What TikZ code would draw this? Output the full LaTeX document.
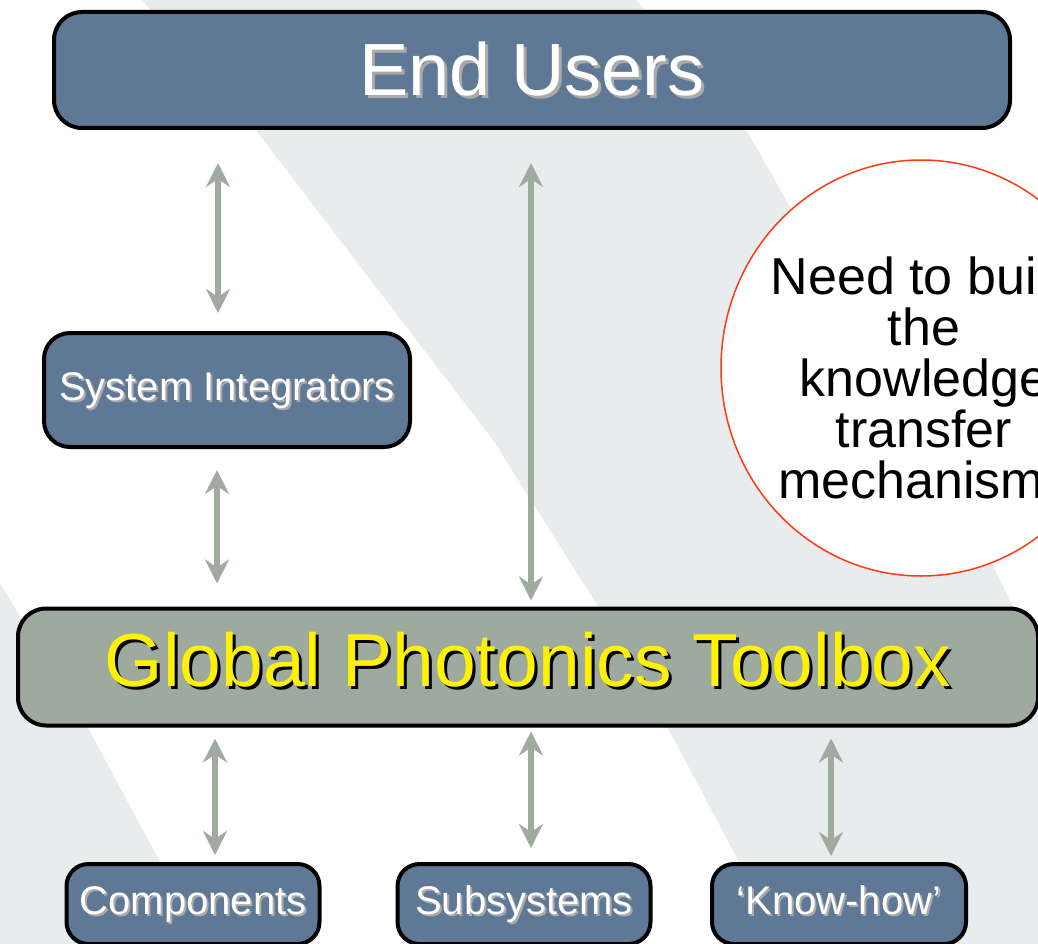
\documentclass[tikz,border=0pt]{standalone}
\usepackage{fontspec}
\setmainfont{Liberation Sans}
\usetikzlibrary{arrows.meta,shapes.geometric}

\definecolor{boxblue}{HTML}{5E7895}
\definecolor{toolgreen}{HTML}{9DAA9D}
\definecolor{linkgreen}{HTML}{9EAB9E}
\definecolor{bggray}{HTML}{E8ECEC}
\definecolor{ringred}{HTML}{FF3B0F}
\definecolor{shadegray}{HTML}{AAAAAA}

% text with a drop shadow: text, shadow colour, offset
\newcommand{\shadowed}[3]{\rlap{\kern#3\raisebox{-#3}{\color{#2}#1}}#1}

\begin{document}
\begin{tikzpicture}[x=1pt,y=-1pt,
	box/.style={draw=black, line width=4pt, fill=boxblue, rounded corners=22pt, inner sep=0pt,
		text=white, font=\fontsize{40}{40}\selectfont, text height=30pt, text depth=9pt},
	toolbox/.style={box, fill=toolgreen, text=yellow, font=\fontsize{75}{75}\selectfont,
		text height=55pt, text depth=16pt},
	bubble/.style={ellipse, draw=ringred, line width=1.5pt, fill=white},
	link/.style={draw=linkgreen, line width=6pt,
		{Stealth[length=24pt,width=24pt,inset=8pt]}-{Stealth[length=24pt,width=24pt,inset=8pt]}}]
	\useasboundingbox (0,0) rectangle (1038,944);
	\clip (0,0) rectangle (1038,944);
	
	% background bands
	\fill[white] (0,0) rectangle (1038,944);
	\fill[bggray] (142,0) -- (258,133) -- (493,440) -- (596,603) -- (669,730) -- (738,860) -- (782,944)
		-- (1038,944) -- (1038,655) -- (1013,607) -- (985,550) -- (748,133) -- (636,0) -- cycle;
	\fill[bggray] (0,583) -- (10,600) -- (89,730) -- (159,860) -- (205,944) -- (0,944) -- cycle;
	
	\node[bubble, minimum width=400pt, minimum height=416pt] (ring) at (921,368) {};
	\node[align=center, font=\fontsize{52}{51}\selectfont, inner sep=0pt] (need) at (924,378)
		{Need to build\\the\\knowledge\\transfer\\mechanisms};
	
	\node[box, font=\fontsize{74}{74}\selectfont, text height=54pt, text depth=2pt,
		minimum width=956pt, minimum height=116pt, rounded corners=28pt] (eu) at (532,70)
		{\shadowed{End Users}{shadegray}{3pt}};
	\node[box, minimum width=366pt, minimum height=114pt, rounded corners=26pt] (si) at (227,390)
		{\shadowed{System Integrators}{shadegray}{2pt}};
	\node[toolbox, minimum width=1020pt, minimum height=117pt, rounded corners=28pt] (gpt) at (528,667)
		{\shadowed{Global Photonics Toolbox}{black}{3pt}};
	
	\node[box, minimum width=253pt, minimum height=80pt] (comp) at (193,904) {\shadowed{Components}{shadegray}{2pt}};
	\node[box, minimum width=253pt, minimum height=80pt] (subs) at (524,904) {\shadowed{Subsystems}{shadegray}{2pt}};
	\node[box, minimum width=254pt, minimum height=80pt] (know) at (839,904) {\shadowed{`Know-how'}{shadegray}{2pt}};
	
	% two-way links
	\draw[link, shorten <=33pt, shorten >=18pt] (eu.south -| 218,0) -- (si.north -| 218,0);
	\draw[link, shorten <=33pt, shorten >=6pt] (eu.south -| 531,0) -- (gpt.north -| 531,0);
	\draw[link, shorten <=21pt, shorten >=23pt] (si.south -| 217,0) -- (gpt.north -| 217,0);
	\draw[link, shorten <=11pt, shorten >=7pt] (gpt.south -| 215,0) -- (comp.north -| 215,0);
	\draw[link, shorten <=4pt, shorten >=14pt] (gpt.south -| 531,0) -- (subs.north -| 531,0);
	\draw[link, shorten <=11pt, shorten >=6pt] (gpt.south -| 831,0) -- (know.north -| 831,0);
\end{tikzpicture}
\end{document}
